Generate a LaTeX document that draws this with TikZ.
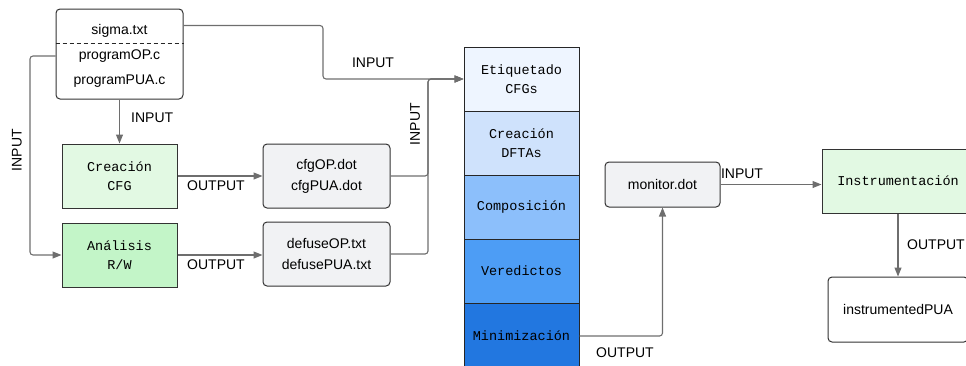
\documentclass[tikz,border=0pt]{standalone}
\usepackage{fontspec}
\setmainfont{Liberation Sans}
\setmonofont{Liberation Mono}
\usetikzlibrary{arrows.meta}
\definecolor{edgeg}{HTML}{6E6E6E}
\definecolor{fileg}{HTML}{F1F2F4}
\definecolor{greenA}{HTML}{E2F9E3}
\definecolor{greenB}{HTML}{C3F5C8}
\definecolor{stA}{HTML}{EEF5FF}
\definecolor{stB}{HTML}{CFE2FC}
\definecolor{stC}{HTML}{8CBFFB}
\definecolor{stD}{HTML}{4D9DF5}
\definecolor{stE}{HTML}{2277E0}
\begin{document}
\begin{tikzpicture}[x=1pt,y=-1pt,
 font=\fontsize{14}{21}\selectfont,
 box/.style={draw=black!80, line width=1pt, inner sep=0pt, align=center},
 rbox/.style={box, rounded corners=4pt},
 filebox/.style={rbox, fill=fileg, minimum width=127pt, minimum height=64pt},
 proc/.style={box, font=\ttfamily\fontsize{13.5}{19}\selectfont, minimum width=115pt, minimum height=64pt},
 stk/.style={proc, draw=black!85, minimum width=115pt, minimum height=64pt},
 conn/.style={draw=edgeg, line width=1.1pt, rounded corners=3pt, -{Triangle[length=9pt,width=7pt]}},
 lbl/.style={font=\fontsize{14}{16}\selectfont, inner sep=0pt}
]
\useasboundingbox (0,0) rectangle (966,365);

% source box
\node[rbox, fill=white, minimum width=127pt, minimum height=90pt] (src) at (119.5,54) {};
\draw[black!85, line width=1pt, dash pattern=on 4pt off 3pt] (src.west |- 0,43) -- (src.east |- 0,43);
\node[lbl] (sigma) at (119.5,31) {sigma.txt};
\node[lbl] (progop) at (119.5,56) {programOP.c};
\node[lbl] (progpua) at (119.5,81) {programPUA.c};

% process boxes
\node[proc, fill=greenA] (cfgc) at (119.5,176) {Creación\\CFG};
\node[proc, fill=greenB] (ana) at (119.5,255) {Análisis\\R/W};

% files
\node[filebox, font=\fontsize{14}{21}\selectfont] (cfg) at (326.5,176) {cfgOP.dot\\cfgPUA.dot};
\node[filebox, font=\fontsize{14}{21}\selectfont] (defuse) at (326.5,254) {defuseOP.txt\\defusePUA.txt};

% stack
\node[stk, fill=stA] (stk1) at (521.5,79) {Etiquetado\\CFGs};
\node[stk, fill=stB] (stk2) at (521.5,143) {Creación\\DFTAs};
\node[stk, fill=stC] (stk3) at (521.5,207) {Composición};
\node[stk, fill=stD] (stk4) at (521.5,271) {Veredictos};
\node[stk, fill=stE, minimum height=66pt] (stk5) at (521.5,336) {Minimización};

% monitor
\node[rbox, fill=fileg, minimum width=115pt, minimum height=45pt] (monitor) at (662.5,184.5) {monitor.dot};

% instrumentation
\node[proc, fill=greenA, minimum width=152pt] (instr) at (898,181) {Instrumentación};
\node[rbox, fill=white, minimum width=140pt, minimum height=65pt] (ipua) at (898,309.5) {instrumentedPUA};

% junction coordinates
\coordinate (ja) at (323,0);
\coordinate (jb) at (428,0);
\coordinate (jl) at (30,0);

% connectors
\draw[conn] ([yshift=-17pt]src.north east) -| (ja |- stk1) -- (stk1.west);
\draw[conn] (cfg.east) -| (jb |- stk1) -- (stk1.west);
\draw[conn] (defuse.east) -| (jb |- stk1) -- (stk1.west);
\draw[conn] (src.west |- progop) -- (jl |- progop) -- (jl |- ana) -- (ana.west);
\draw[conn] (src.south -| cfgc.north) -- (cfgc.north);
\draw[conn] (cfgc.east) -- (cfg.west |- cfgc.east);
\draw[conn] (ana.east) -- (defuse.west |- ana.east);
\draw[conn] (stk5.east) -| (monitor.south);
\draw[conn] (monitor.east) -- (monitor.east -| instr.west);
\draw[conn] (instr.south) -- (ipua.north);

% labels
\node[lbl] at (373,63) {INPUT};
\node[lbl, anchor=west] at (131,118) {INPUT};
\node[lbl, rotate=90] at (17,150) {INPUT};
\node[lbl, rotate=90] at (415,124) {INPUT};
\node[lbl] at (216,186) {OUTPUT};
\node[lbl] at (216,265) {OUTPUT};
\node[lbl] at (625,353) {OUTPUT};
\node[lbl] at (742,174) {INPUT};
\node[lbl] at (936,245) {OUTPUT};
\end{tikzpicture}
\end{document}
